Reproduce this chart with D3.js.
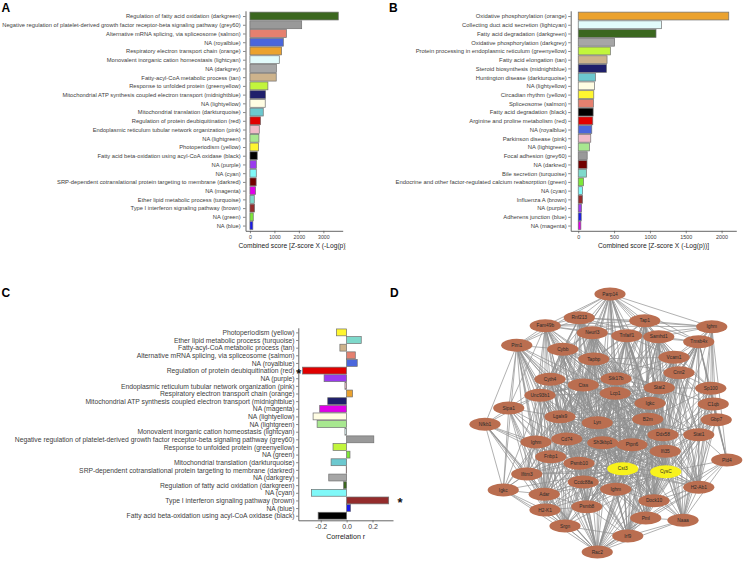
<!DOCTYPE html>
<html><head><meta charset="utf-8">
<script src="https://cdn.jsdelivr.net/npm/d3@7"></script>
<style>
body{margin:0;background:#fff}
svg{display:block;font-family:"Liberation Sans",Arial,sans-serif}
</style>
</head><body>
<svg id="fig" width="744" height="561"></svg>
<script>
// ---------------- DATA ----------------
const modulePalette = {
  darkgreen:"#3B671F", grey60:"#999999", salmon:"#E5806F", royalblue:"#4A66DC",
  orange:"#EBA22E", lightcyan:"#E2FBFB", darkgrey:"#A6A6A6", tan:"#CDB38C",
  greenyellow:"#C2F53C", midnightblue:"#1F1F6B", lightyellow:"#FFFDE3",
  darkturquoise:"#6CC8CF", red:"#E00000", pink:"#F0BBC8", lightgreen:"#A8E890",
  yellow:"#FFF630", black:"#000000", purple:"#9A3AEE", cyan:"#80F8F8",
  darkred:"#720000", magenta:"#E000E8", turquoise:"#7ED9CB", brown:"#942C2C",
  green:"#7EE838", blue:"#1A1AE8"
};

const termsA = [
  "Regulation of fatty acid oxidation (darkgreen)",
  "Negative regulation of platelet-derived growth factor receptor-beta signaling pathway (grey60)",
  "Alternative mRNA splicing, via spliceosome (salmon)",
  "NA (royalblue)",
  "Respiratory electron transport chain (orange)",
  "Monovalent inorganic cation homeostasis (lightcyan)",
  "NA (darkgrey)",
  "Fatty-acyl-CoA metabolic process (tan)",
  "Response to unfolded protein (greenyellow)",
  "Mitochondrial ATP synthesis coupled electron transport (midnightblue)",
  "NA (lightyellow)",
  "Mitochondrial translation (darkturquoise)",
  "Regulation of protein deubiquitination (red)",
  "Endoplasmic reticulum tubular network organization (pink)",
  "NA (lightgreen)",
  "Photoperiodism (yellow)",
  "Fatty acid beta-oxidation using acyl-CoA oxidase (black)",
  "NA (purple)",
  "NA (cyan)",
  "SRP-dependent cotranslational protein targeting to membrane (darkred)",
  "NA (magenta)",
  "Ether lipid metabolic process (turquoise)",
  "Type I interferon signaling pathway (brown)",
  "NA (green)",
  "NA (blue)"
];
const scoresA = [3610, 2115, 1490, 1365, 1295, 1200, 1080, 1075, 735, 640, 625, 545, 436, 382, 368, 355, 300, 262, 260, 255, 232, 178, 190, 136, 120];

const termsB = [
  "Oxidative phosphorylation (orange)",
  "Collecting duct acid secretion (lightcyan)",
  "Fatty acid degradation (darkgreen)",
  "Oxidative phosphorylation (darkgrey)",
  "Protein processing in endoplasmic reticulum (greenyellow)",
  "Fatty acid elongation (tan)",
  "Steroid biosynthesis (midnightblue)",
  "Huntington disease (darkturquoise)",
  "NA (lightyellow)",
  "Circadian rhythm (yellow)",
  "Spliceosome (salmon)",
  "Fatty acid degradation (black)",
  "Arginine and proline metabolism (red)",
  "NA (royalblue)",
  "Parkinson disease (pink)",
  "NA (lightgreen)",
  "Focal adhesion (grey60)",
  "NA (darkred)",
  "Bile secretion (turquoise)",
  "Endocrine and other factor-regulated calcium reabsorption (green)",
  "NA (cyan)",
  "Influenza A (brown)",
  "NA (purple)",
  "Adherens junction (blue)",
  "NA (magenta)"
];
const scoresB = [2100, 1160, 1085, 508, 448, 402, 393, 240, 226, 217, 212, 208, 203, 189, 175, 157, 125, 122, 115, 74, 60, 60, 46, 42, 37];

const termsC = [
  "Photoperiodism (yellow)",
  "Ether lipid metabolic process (turquoise)",
  "Fatty-acyl-CoA metabolic process (tan)",
  "Alternative mRNA splicing, via spliceosome (salmon)",
  "NA (royalblue)",
  "Regulation of protein deubiquitination (red)",
  "NA (purple)",
  "Endoplasmic reticulum tubular network organization (pink)",
  "Respiratory electron transport chain (orange)",
  "Mitochondrial ATP synthesis coupled electron transport (midnightblue)",
  "NA (magenta)",
  "NA (lightyellow)",
  "NA (lightgreen)",
  "Monovalent inorganic cation homeostasis (lightcyan)",
  "Negative regulation of platelet-derived growth factor receptor-beta signaling pathway (grey60)",
  "Response to unfolded protein (greenyellow)",
  "NA (green)",
  "Mitochondrial translation (darkturquoise)",
  "SRP-dependent cotranslational protein targeting to membrane (darkred)",
  "NA (darkgrey)",
  "Regulation of fatty acid oxidation (darkgreen)",
  "NA (cyan)",
  "Type I interferon signaling pathway (brown)",
  "NA (blue)",
  "Fatty acid beta-oxidation using acyl-CoA oxidase (black)"
];
const corrC = [-0.079, 0.113, -0.052, 0.067, 0.082, -0.34, -0.174, -0.013, 0.046, -0.146, -0.208, -0.259, -0.228, -0.013, 0.21, -0.105, 0.026, -0.12, -0.003, -0.138, -0.023, -0.272, 0.325, 0.031, -0.22];
const significantC = ["Regulation of protein deubiquitination (red)", "Type I interferon signaling pathway (brown)"];

const ticksA = [0, 1000, 2000, 3000];
const ticksB = [0, 500, 1000, 1500, 2000];
const ticksC = [-0.2, 0.0, 0.2];

// network (panel D): node names and layout coordinates (layout units)
const nodeNames = ["Parp14","Rnf213","Fam49b","Tap1","Ighm","Neurl3","Tnfaif1","Samhd1","Tmsb4x","Pim1",
  "Cybb","Tapbp","Vcam1","Cnn2","Cyth4","Ctss","Stk17b","Lcp1","Stat2","Sp100",
  "Unc93b1","Igkc","C1qb","Sipa1","Lgals9","B2m","Gbp7","Lyn","Nfkb1","Ddx58",
  "Stat1","Cd74","Ighm","Sh3kbp1","Ptpn6","Ifi35","Fnbp1","Pld4","Psmb10","Cst3",
  "CysC","Ifitm3","Ccdc88a","Ighm","H2-Ab1","Igkc","Adar","Dock10","H2-K1","Psmb8",
  "Pml","Naaa","Srgn","Irf9","Rac2"];
const nodeX = [520,397,261,659,927,449,587,715,875,147, 331,455,776,796,280,413,544,541,717,923,
  240,680,933,115,320,671,945,469,20,732, 875,347,224,491,608,741,283,987,396,571,
  743,187,413,543,875,93,257,696,260,427, 663,812,340,591,469];
const nodeY = [36,131,163,143,167,191,203,207,227,241, 257,296,289,351,377,400,375,433,411,413,
  441,473,476,492,527,537,539,551,557,599, 599,616,628,631,639,665,687,700,713,735,
  747,756,788,817,809,820,837,863,900,887, 932,941,964,1004,1068];
const highlightNodes = [39, 40];
// adjacency: node i -> neighbours (indices)
const adjacency = [
  "1,2,3,4,5,6,7,8,9,10,11,12,13,14,15,16,17,18,20,21,24,25,27,29,31,33,34,39,40,43",
  "2,3,4,5,6,7,9,10,11,14,15,16,17,20,21,24,25,27,29,31,33,34,38,39,40,42,43",
  "3,4,5,6,9,10,11,14,15,16,17,20,23,24,27,31,33,36,38,39,40,41,42,43,46",
  "4,5,6,7,8,11,12,13,16,17,18,21,25,27,29,33,34,35,39,40,43,44,47,53",
  "6,7,8,12,13,18,19,22,26,30,37,40,44",
  "6,7,10,11,14,15,16,17,20,21,24,25,27,29,31,33,34,36,38,39,40,42,43,49",
  "7,8,11,12,16,17,18,21,24,25,27,29,31,33,34,35,38,39,40,42,43,47,49",
  "8,12,13,16,17,18,19,21,25,27,29,30,33,34,35,39,40,43,44,47,50,51",
  "12,13,18,19,21,22,25,26,29,30,34,35,37,39,40,44,47,50,51",
  "10,14,15,17,20,23,24,27,28,31,32,33,36,38,39,40,41,42,45,46,48,52,54",
  "11,14,15,16,17,18,20,21,24,25,27,29,31,32,33,34,36,38,39,40,42,43,46,49",
  "12,13,15,16,17,18,20,21,24,25,27,29,31,33,34,35,36,38,39,40,42,43,47,49",
  "13,18,19,20,21,24,25,27,29,30,33,34,35,39,40,43,44,47,49,53,54",
  "18,19,21,22,25,26,29,30,33,35,39,40,43,44,47,51,53,54",
  "15,16,17,20,21,23,24,25,27,31,32,33,34,36,38,39,40,41,42,43,46,47,49,52,54",
  "16,17,18,20,21,24,25,27,29,31,32,33,34,35,36,38,39,40,41,42,43,45,46,48,49,52,53,54",
  "17,18,20,21,24,25,27,29,31,33,34,35,36,38,39,40,42,43,44,47,49,50,53",
  "18,20,21,24,25,27,29,31,33,34,35,36,38,39,40,42,43,44,46,47,49,50,52,53,54",
  "19,21,22,24,25,27,29,30,31,33,34,35,39,40,42,43,44,47,49,50,51,53",
  "22,25,26,29,30,35,37,40,44,47,51",
  "23,24,28,31,32,36,38,39,40,41,42,45,46,48,54",
  "24,25,27,29,30,31,33,34,35,36,38,39,40,42,43,44,47,49,50,51,53,54",
  "26,29,30,35,37,40,44,47,51",
  "24,28,31,32,36,38,41,45,46,48,52",
  "25,27,29,31,32,33,34,35,36,38,39,40,41,42,43,46,47,48,49,50,52,53,54",
  "27,29,30,31,33,34,35,36,38,39,40,42,43,44,47,49,50,51,53,54",
  "29,30,35,37,40,44,47,51",
  "29,31,33,34,35,36,38,39,40,41,42,43,44,46,47,48,49,50,52,53,54",
  "32,36,38,41,45,46,48,52,54",
  "30,31,33,34,35,36,38,39,40,42,43,44,47,49,50,51,53,54",
  "35,37,40,44,47,50,51",
  "32,33,34,35,36,38,39,40,41,42,43,44,46,47,48,49,50,52,53,54",
  "36,38,41,42,45,46,48,52,54",
  "34,35,36,38,39,40,41,42,43,44,46,47,48,49,50,51,52,53,54",
  "35,36,38,39,40,41,42,43,44,46,47,49,50,51,52,53,54",
  "38,39,40,42,43,44,47,49,50,51,53,54",
  "38,41,42,45,46,48,49,52,54",
  "40,44,47,51,54",
  "39,40,41,42,43,44,46,47,48,49,50,52,53,54",
  "40,41,42,43,44,45,46,47,48,49,50,51,52,53,54",
  "41,42,43,44,46,47,48,49,50,51,52,53,54",
  "45,46,48,52,54",
  "43,46,48,49,52,53,54",
  "47,49,50,53,54",
  "47,50,51,54",
  "46,48,52,54",
  "48,49,52,54",
  "50,51,53,54",
  "49,52,54",
  "52,53,54",
  "51,53,54",
  "53,54",
  "53,54",
  "54",
  ""
];

// ---------------- DRAWING ----------------
const svg = d3.select("#fig");
const moduleOf = t => t.match(/\(([^()]+)\)$/)[1];
const textCol = "#404040", axisCol = "#555";

const defs = svg.append("defs");
defs.append("clipPath").attr("id","clipA").append("rect").attr("x",0).attr("y",0).attr("width",346).attr("height",280);

function barPanel(o){
  const g = svg.append("g").attr("clip-path", o.clip ? `url(#${o.clip})` : null);
  const lo = Math.min(0, d3.min(o.values)), hi = Math.max(0, d3.max(o.values));
  const pad = (hi - lo) * 0.05;
  const x = d3.scaleLinear().domain([lo - pad, hi + pad]).range(o.xRange);
  const y = d3.scalePoint().domain(o.terms).range(o.yRange).padding(0.6);
  const bw = y.step() * 0.9;
  const data = o.terms.map((t,i)=>({t, v:o.values[i]}));
  g.append("g").selectAll("rect").data(data).join("rect")
    .attr("x", d => x(Math.min(0,d.v)))
    .attr("width", d => Math.max(0.4, Math.abs(x(d.v) - x(0))))
    .attr("y", d => y(d.t) - bw/2)
    .attr("height", bw)
    .attr("fill", d => modulePalette[moduleOf(d.t)])
    .attr("stroke", "#707070").attr("stroke-width", 0.7);

  const ya = g.append("g").attr("transform", `translate(${o.xRange[0]},0)`)
    .call(d3.axisLeft(y).tickSize(o.tickLen).tickSizeOuter(0).tickPadding(o.labelPad));
  ya.selectAll("text").attr("font-size", o.labelSize).attr("fill", textCol);
  const xa = g.append("g").attr("transform", `translate(0,${o.yRange[1]})`)
    .call(d3.axisBottom(x).tickValues(o.ticks).tickFormat(o.fmt).tickSize(o.tickLen).tickSizeOuter(0).tickPadding(1.8));
  xa.selectAll("text").attr("font-size", o.tickSize).attr("fill", textCol);
  [ya, xa].forEach(a => {
    a.attr("font-family", null);
    a.select(".domain").attr("stroke", axisCol).attr("stroke-width", 0.9);
    a.selectAll(".tick line").attr("stroke", axisCol).attr("stroke-width", 0.7);
  });
  g.append("text").attr("x", (o.xRange[0]+o.xRange[1])/2).attr("y", o.titleY)
    .attr("text-anchor","middle").attr("font-size", o.titleSize).attr("fill","#222").text(o.title);
  return {x, y, g};
}

// Panel A
barPanel({terms:termsA, values:scoresA, xRange:[245.5, 342.7], yRange:[10.8, 230.8],
  ticks:ticksA, fmt:d3.format("d"), tickLen:2.5, labelPad:2.3, labelSize:5.78, tickSize:5.2,
  title:"Combined score [Z-score X (-Log(p))]", titleSize:6.7, titleY:247.5, clip:"clipA"});
// Panel B
barPanel({terms:termsB, values:scoresB, xRange:[570.7, 736.3], yRange:[10.8, 230.8],
  ticks:ticksB, fmt:d3.format("d"), tickLen:2.5, labelPad:1.5, labelSize:5.85, tickSize:5.4,
  title:"Combined score [Z-score X (-Log(p))]", titleSize:6.7, titleY:247.5});
// Panel C
const pc = barPanel({terms:termsC, values:corrC, xRange:[298.3, 393], yRange:[327.8, 520.3],
  ticks:ticksC, fmt:d => d3.format(".1f")(d).replace("−","-"), tickLen:2.2, labelPad:1.5, labelSize:6.78, tickSize:7,
  title:"Correlation r", titleSize:7.1, titleY:538.8});
significantC.forEach(t => {
  const v = corrC[termsC.indexOf(t)];
  svg.append("text")
    .attr("x", v < 0 ? pc.x(v) - 3.7 : pc.x(v) + 11.4)
    .attr("y", pc.y(t) + 7)
    .attr("text-anchor","middle").attr("font-size", 13).attr("font-weight","bold").attr("fill","#111")
    .text("*");
});

// Panel D: network
const nx = d3.scaleLinear().domain([0,1000]).range([480, 730]);
const ny = d3.scaleLinear().domain([0,1100]).range([285, 560]);
const nodes = nodeNames.map((n,i)=>({name:n, x:nodeX[i], y:nodeY[i], hi: highlightNodes.includes(i)}));
const edgeSet = new Set();
const edges = [];
adjacency.forEach((s,i) => {
  if (!s) return;
  s.split(",").forEach(js => {
    const j = +js, a = Math.min(i,j), b = Math.max(i,j), k = a + "-" + b;
    if (a !== b && !edgeSet.has(k)) { edgeSet.add(k); edges.push([a,b]); }
  });
});
const gd = svg.append("g");
gd.append("g").selectAll("line").data(edges).join("line")
  .attr("x1", d => nx(nodes[d[0]].x)).attr("y1", d => ny(nodes[d[0]].y))
  .attr("x2", d => nx(nodes[d[1]].x)).attr("y2", d => ny(nodes[d[1]].y))
  .attr("stroke", "#8f8f8f").attr("stroke-width", 0.7);
const gn = gd.append("g").selectAll("g").data(nodes).join("g")
  .attr("transform", d => `translate(${nx(d.x)},${ny(d.y)})`);
gn.append("ellipse").attr("rx", 15.6).attr("ry", 6.4)
  .attr("fill", d => d.hi ? "#F8F21C" : "#BA6E50");
gn.append("text").attr("text-anchor","middle").attr("dy", "0.35em")
  .attr("font-size", 4.8).attr("fill", "#2b2b2b").text(d => d.name);

// Panel letters
[["A",1.5,11.8],["B",389,11.8],["C",1.5,297],["D",390,297]].forEach(([t,x,y]) =>
  svg.append("text").attr("x",x).attr("y",y).attr("font-size",12).attr("font-weight","bold").attr("fill","#000").text(t));
</script>
</body></html>
